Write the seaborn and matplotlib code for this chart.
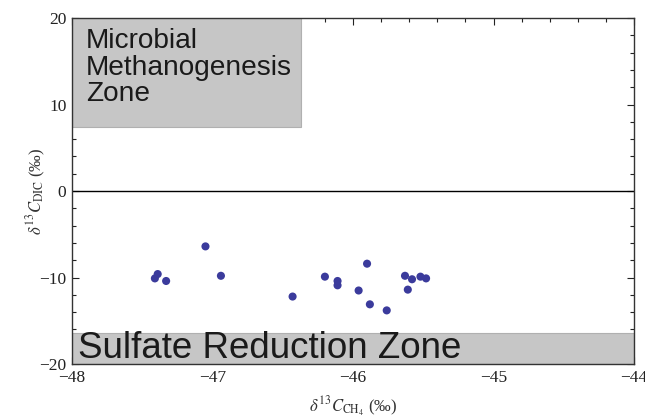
import matplotlib
matplotlib.use('Agg')
import matplotlib.pyplot as plt
import seaborn as sns
import pandas as pd
from matplotlib.ticker import MultipleLocator
from matplotlib.patches import Rectangle

# carbon isotope values
d13c_ch4 = [-47.41, -47.39, -47.33, -47.05, -46.94, -46.43, -46.20, -46.11, -46.11,
            -45.96, -45.90, -45.88, -45.76, -45.63, -45.61, -45.58, -45.52, -45.48]
d13c_dic = [-10.1, -9.6, -10.4, -6.4, -9.8, -12.2, -9.9, -10.4, -10.9,
            -11.5, -8.4, -13.1, -13.8, -9.8, -11.4, -10.2, -9.9, -10.1]

df = pd.DataFrame({'ch4': d13c_ch4, 'dic': d13c_dic})

sns.set_style('ticks')
plt.rcParams['font.family'] = ['Liberation Serif', 'DejaVu Serif']
plt.rcParams['mathtext.fontset'] = 'stix'

fig = plt.figure(figsize=(6.45, 4.2), dpi=100)
ax = fig.add_axes([0.1116, 0.1333, 0.8714, 0.8237])

# zone boxes
ax.add_patch(Rectangle((-48, 7.4), 1.63, 12.6, facecolor='#c6c6c6',
                       edgecolor='#b0b0b0', lw=0.8, zorder=1))
ax.add_patch(Rectangle((-48, -20), 4, 3.6, facecolor='#c6c6c6',
                       edgecolor='#b0b0b0', lw=0.8, zorder=1))
ax.text(-47.9, 18.8, 'Microbial\nMethanogenesis\nZone', family='Liberation Sans',
        fontsize=20.2, va='top', ha='left', linespacing=1.02, color='#1a1a1a', zorder=2)
ax.text(-47.96, -18.2, 'Sulfate Reduction Zone', family='Liberation Sans',
        fontsize=26.5, va='center', ha='left', color='#1a1a1a', zorder=2)

ax.axhline(0, color='black', lw=1.0, zorder=2)

sns.scatterplot(data=df, x='ch4', y='dic', color='#3b3b9c', s=34,
                edgecolor='none', ax=ax, zorder=3)

ax.set_xlim(-48, -44)
ax.set_ylim(-20, 20)
ax.xaxis.set_major_locator(MultipleLocator(1))
ax.xaxis.set_minor_locator(MultipleLocator(0.2))
ax.yaxis.set_major_locator(MultipleLocator(10))
ax.yaxis.set_minor_locator(MultipleLocator(2))
ax.tick_params(which='both', direction='in', top=True, right=True,
               labelsize=12.5, colors='#222222', width=0.8)
ax.tick_params(which='major', length=5, pad=4)
ax.tick_params(which='minor', length=3)
for sp in ax.spines.values():
    sp.set_linewidth(1.0)
    sp.set_color('#333333')

ax.set_xlabel(r'$\delta^{13}C_{\mathrm{CH_4}}$ (‰)', fontsize=12, color='#333333', labelpad=7)
ax.set_ylabel(r'$\delta^{13}C_{\mathrm{DIC}}$ (‰)', fontsize=12, color='#333333', labelpad=-6)

fig.savefig('out.png', dpi=100)
